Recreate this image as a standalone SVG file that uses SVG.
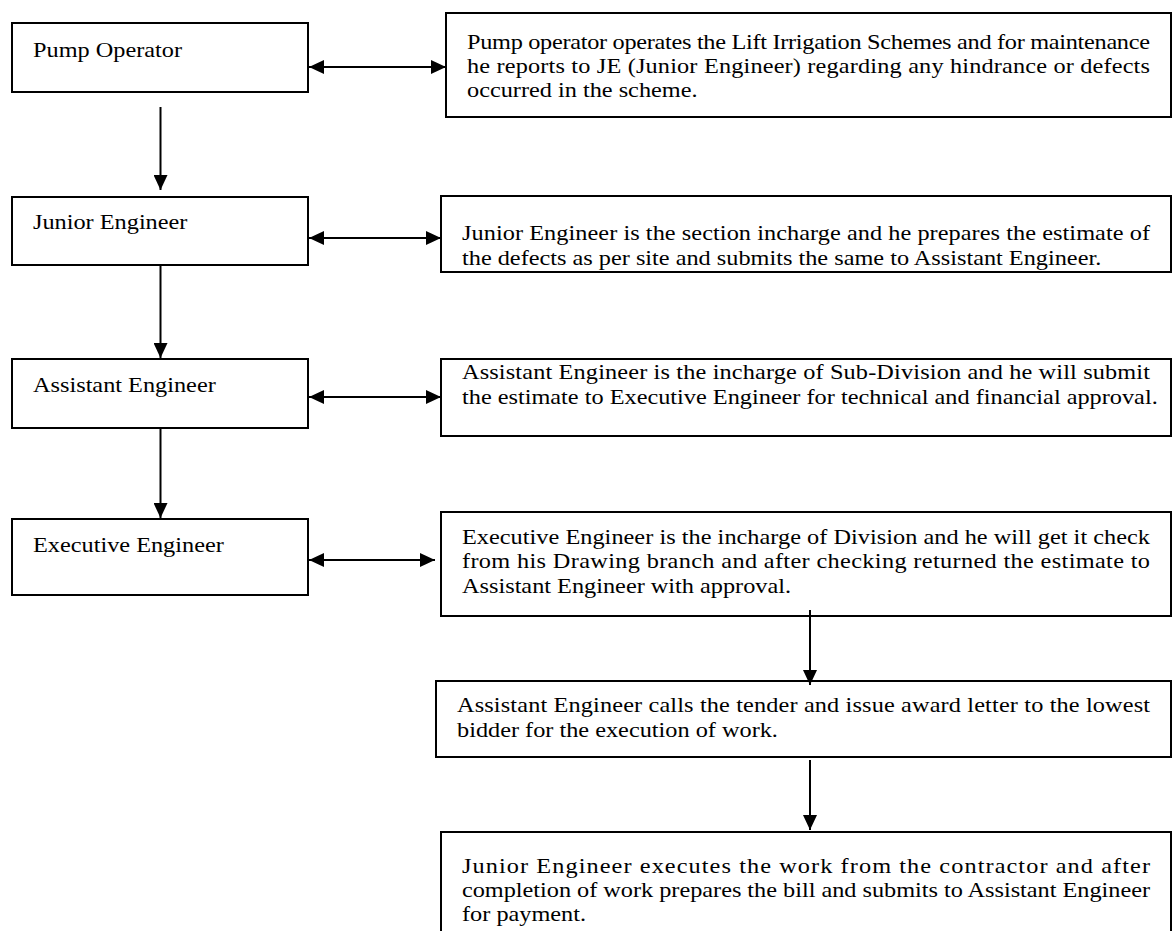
<svg xmlns="http://www.w3.org/2000/svg" width="1172" height="931" viewBox="0 0 1172 931">
  <style>
    .box { fill: #ffffff; stroke: #000000; stroke-width: 2; }
    .lbl { font-family: 'Liberation Serif', Tinos, 'Times New Roman', Times, serif; font-size: 21.7px; fill: #000000; }
    .wire { stroke: #000000; stroke-width: 2; fill: none; }
  </style>
  <defs>
    <marker id="head" markerUnits="userSpaceOnUse" markerWidth="16" markerHeight="14" refX="15" refY="7" orient="auto-start-reverse">
      <path d="M0,0 L15,7 L0,14 Z" fill="#000000"/>
    </marker>
  </defs>

  <!-- role boxes, left column -->
  <g id="pump-operator">
    <rect class="box" x="12" y="23" width="296" height="69"/>
    <text class="lbl" transform="translate(33 57) scale(1.12 1)">Pump Operator</text>
  </g>
  <g id="junior-engineer">
    <rect class="box" x="12" y="197" width="296" height="68"/>
    <text class="lbl" transform="translate(33 229) scale(1.12 1)">Junior Engineer</text>
  </g>
  <g id="assistant-engineer">
    <rect class="box" x="12" y="359" width="296" height="69"/>
    <text class="lbl" transform="translate(33 392) scale(1.12 1)">Assistant Engineer</text>
  </g>
  <g id="executive-engineer">
    <rect class="box" x="12" y="519" width="296" height="76"/>
    <text class="lbl" transform="translate(33 552) scale(1.12 1)">Executive Engineer</text>
  </g>

  <!-- duty descriptions, right column -->
  <g id="pump-operator-duty">
    <rect class="box" x="446" y="13" width="725" height="104"/>
    <text class="lbl" transform="translate(467 49) scale(1.12 1)" textLength="609.8" lengthAdjust="spacing">Pump operator operates the Lift Irrigation Schemes and for maintenance</text>
    <text class="lbl" transform="translate(467 73) scale(1.12 1)" textLength="609.8" lengthAdjust="spacing">he reports to JE (Junior Engineer) regarding any hindrance or defects</text>
    <text class="lbl" transform="translate(467 97) scale(1.12 1)">occurred in the scheme.</text>
  </g>
  <g id="junior-engineer-duty">
    <rect class="box" x="441" y="196" width="730" height="76"/>
    <text class="lbl" transform="translate(462 240) scale(1.12 1)" textLength="614.3" lengthAdjust="spacing">Junior Engineer is the section incharge and he prepares the estimate of</text>
    <text class="lbl" transform="translate(462 265) scale(1.12 1)">the defects as per site and submits the same to Assistant Engineer.</text>
  </g>
  <g id="assistant-engineer-duty">
    <rect class="box" x="441" y="359" width="730" height="77"/>
    <text class="lbl" transform="translate(462 379) scale(1.12 1)" textLength="614.3" lengthAdjust="spacing">Assistant Engineer is the incharge of Sub-Division and he will submit</text>
    <text class="lbl" transform="translate(462 404) scale(1.12 1)">the estimate to Executive Engineer for technical and financial approval.</text>
  </g>
  <g id="executive-engineer-duty">
    <rect class="box" x="441" y="512" width="730" height="104"/>
    <text class="lbl" transform="translate(462 544) scale(1.12 1)" textLength="614.3" lengthAdjust="spacing">Executive Engineer is the incharge of Division and he will get it check</text>
    <text class="lbl" transform="translate(462 568) scale(1.12 1)" textLength="614.3" lengthAdjust="spacing">from his Drawing branch and after checking returned the estimate to</text>
    <text class="lbl" transform="translate(462 593) scale(1.12 1)">Assistant Engineer with approval.</text>
  </g>
  <g id="tender-award">
    <rect class="box" x="436" y="681" width="735" height="76"/>
    <text class="lbl" transform="translate(457 712) scale(1.12 1)" textLength="618.8" lengthAdjust="spacing">Assistant Engineer calls the tender and issue award letter to the lowest</text>
    <text class="lbl" transform="translate(457 737) scale(1.12 1)">bidder for the execution of work.</text>
  </g>
  <g id="work-execution">
    <rect class="box" x="441" y="832" width="730" height="120"/>
    <text class="lbl" transform="translate(462 873) scale(1.12 1)" textLength="614.3" lengthAdjust="spacing">Junior Engineer executes the work from the contractor and after</text>
    <text class="lbl" transform="translate(462 897) scale(1.12 1)" textLength="614.3" lengthAdjust="spacing">completion of work prepares the bill and submits to Assistant Engineer</text>
    <text class="lbl" transform="translate(462 921) scale(1.12 1)">for payment.</text>
  </g>

  <!-- connectors -->
  <g id="connectors">
    <line class="wire" x1="309" y1="67" x2="446" y2="67" marker-start="url(#head)" marker-end="url(#head)"/>
    <line class="wire" x1="309" y1="238" x2="441" y2="238" marker-start="url(#head)" marker-end="url(#head)"/>
    <line class="wire" x1="309" y1="397" x2="441" y2="397" marker-start="url(#head)" marker-end="url(#head)"/>
    <line class="wire" x1="309" y1="560" x2="435" y2="560" marker-start="url(#head)" marker-end="url(#head)"/>
    <line class="wire" x1="160.5" y1="107" x2="160.5" y2="190" marker-end="url(#head)"/>
    <line class="wire" x1="160.5" y1="265" x2="160.5" y2="358" marker-end="url(#head)"/>
    <line class="wire" x1="160.5" y1="428" x2="160.5" y2="518" marker-end="url(#head)"/>
    <line class="wire" x1="810" y1="610" x2="810" y2="685" marker-end="url(#head)"/>
    <line class="wire" x1="810" y1="760" x2="810" y2="830" marker-end="url(#head)"/>
  </g>
</svg>
